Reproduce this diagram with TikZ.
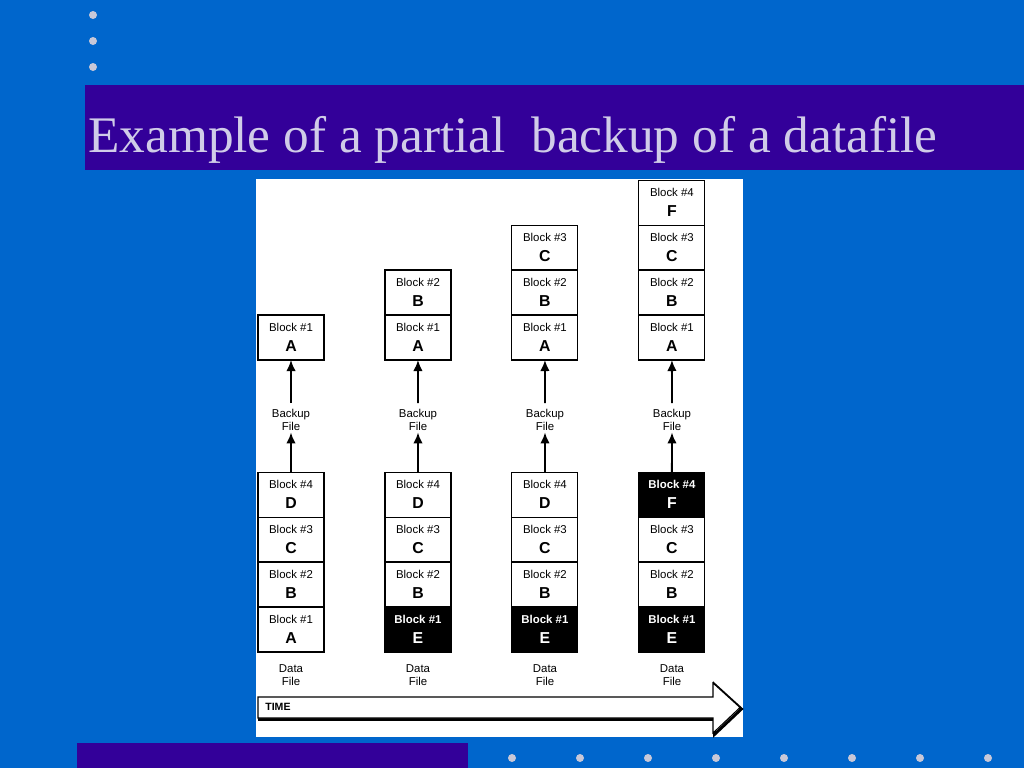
\documentclass[tikz,border=0pt]{standalone}
\usepackage{fontspec}
\setmainfont{Liberation Serif}
\newfontfamily\arialfont{Liberation Sans}
\usepackage{xcolor}
\definecolor{cSlide}{HTML}{0066CC}
\definecolor{cBar}{HTML}{330099}
\definecolor{cTitle}{HTML}{D0CCE8}
\definecolor{cDot}{HTML}{C8C8D8}
\usetikzlibrary{positioning,arrows.meta}
\newcommand\blocktext[2]{Block \##1\\[3.5pt]{\fontsize{9}{9}\selectfont\bfseries #2}}
\tikzset{
  node-block/.style={draw=black,line width=0.6pt,fill=white,minimum width=1.32cm,
    minimum height=0.9cm,inner sep=0pt,outer sep=0pt,align=center,
    font=\arialfont\fontsize{6.5}{8}\selectfont},
  node-new/.style={fill=black,text=white,font=\arialfont\bfseries\fontsize{6.5}{8}\selectfont},
  node-label/.style={align=center,inner sep=1pt,font=\arialfont\fontsize{6.5}{7}\selectfont},
  arrow/.style={-{Latex[length=2.2mm,width=1.9mm]},line width=1.1pt},
  dot/.style={fill=cDot,draw=none},
}
\begin{document}
\begin{tikzpicture}[x=0.02cm,y=-0.02cm,node distance=0pt and 12.2mm]
  % slide background
  \fill[cSlide] (0,0) rectangle (1024,768);
  \useasboundingbox (0,0) rectangle (1024,768);
  \fill[cBar] (85,85) rectangle (1024,170);
  \fill[cBar] (77,743) rectangle (468,768);
  \node[anchor=base west,inner sep=0pt,text=cTitle,font=\fontsize{29.2}{31}\selectfont]
    (title) at (88,152) {Example of a partial\ \ backup of a datafile};
  \foreach \y in {15,41,67} \fill[dot] (93,\y) circle (4);
  \foreach \x in {512,580,...,988} \fill[dot] (\x,758) circle (4);
  \fill[white] (256,179) rectangle (743,737);

  % data files
  \node[node-block] (d1a) at (291,629.5) {\blocktext{1}{A}};
  \node[node-block,above=of d1a] (d1b) {\blocktext{2}{B}};
  \node[node-block,above=of d1b] (d1c) {\blocktext{3}{C}};
  \node[node-block,above=of d1c] (d1d) {\blocktext{4}{D}};
  \node[node-block,node-new,right=of d1a] (d2a) {\blocktext{1}{E}};
  \node[node-block,above=of d2a] (d2b) {\blocktext{2}{B}};
  \node[node-block,above=of d2b] (d2c) {\blocktext{3}{C}};
  \node[node-block,above=of d2c] (d2d) {\blocktext{4}{D}};
  \node[node-block,node-new,right=of d2a] (d3a) {\blocktext{1}{E}};
  \node[node-block,above=of d3a] (d3b) {\blocktext{2}{B}};
  \node[node-block,above=of d3b] (d3c) {\blocktext{3}{C}};
  \node[node-block,above=of d3c] (d3d) {\blocktext{4}{D}};
  \node[node-block,node-new,right=of d3a] (d4a) {\blocktext{1}{E}};
  \node[node-block,above=of d4a] (d4b) {\blocktext{2}{B}};
  \node[node-block,above=of d4b] (d4c) {\blocktext{3}{C}};
  \node[node-block,node-new,above=of d4c] (d4d) {\blocktext{4}{F}};

  % backup files
  \node[node-block] (b1a) at (291,337.5) {\blocktext{1}{A}};
  \node[node-block,right=of b1a] (b2a) {\blocktext{1}{A}};
  \node[node-block,above=of b2a] (b2b) {\blocktext{2}{B}};
  \node[node-block,right=of b2a] (b3a) {\blocktext{1}{A}};
  \node[node-block,above=of b3a] (b3b) {\blocktext{2}{B}};
  \node[node-block,above=of b3b] (b3c) {\blocktext{3}{C}};
  \node[node-block,right=of b3a] (b4a) {\blocktext{1}{A}};
  \node[node-block,above=of b4a] (b4b) {\blocktext{2}{B}};
  \node[node-block,above=of b4b] (b4c) {\blocktext{3}{C}};
  \node[node-block,above=of b4c] (b4d) {\blocktext{4}{F}};

  % labels
  \node[node-label] (bk1) at (291,420) {Backup\\File};
  \node[node-label] (bk2) at (418,420) {Backup\\File};
  \node[node-label] (bk3) at (545,420) {Backup\\File};
  \node[node-label] (bk4) at (672,420) {Backup\\File};
  \node[node-label] (df1) at (291,675) {Data\\File};
  \node[node-label] (df2) at (418,675) {Data\\File};
  \node[node-label] (df3) at (545,675) {Data\\File};
  \node[node-label] (df4) at (672,675) {Data\\File};

  \draw[arrow] (d1d) -- (bk1);
  \draw[arrow] (d2d) -- (bk2);
  \draw[arrow] (d3d) -- (bk3);
  \draw[arrow] (d4d) -- (bk4);
  \draw[arrow,shorten <=2.5pt] (bk1) -- (b1a);
  \draw[arrow,shorten <=2.5pt] (bk2) -- (b2a);
  \draw[arrow,shorten <=2.5pt] (bk3) -- (b3a);
  \draw[arrow,shorten <=2.5pt] (bk4) -- (b4a);

  % time arrow
  \draw[line width=1.6pt,line join=miter]
    (259.5,698.5) -- (714.5,698.5) -- (714.5,684.5) -- (741.5,709) -- (714.5,734.5)
    -- (714.5,719.5) -- (259.5,719.5) -- cycle;
  \draw[line width=0.6pt,fill=white,line join=miter]
    (258,697) -- (713,697) -- (713,683) -- (740,707.5) -- (713,733)
    -- (713,718) -- (258,718) -- cycle;
  \node[anchor=west,inner sep=0pt,font=\arialfont\bfseries\fontsize{6}{7}\selectfont]
    (time) at (265,707) {TIME};
\end{tikzpicture}
\end{document}
